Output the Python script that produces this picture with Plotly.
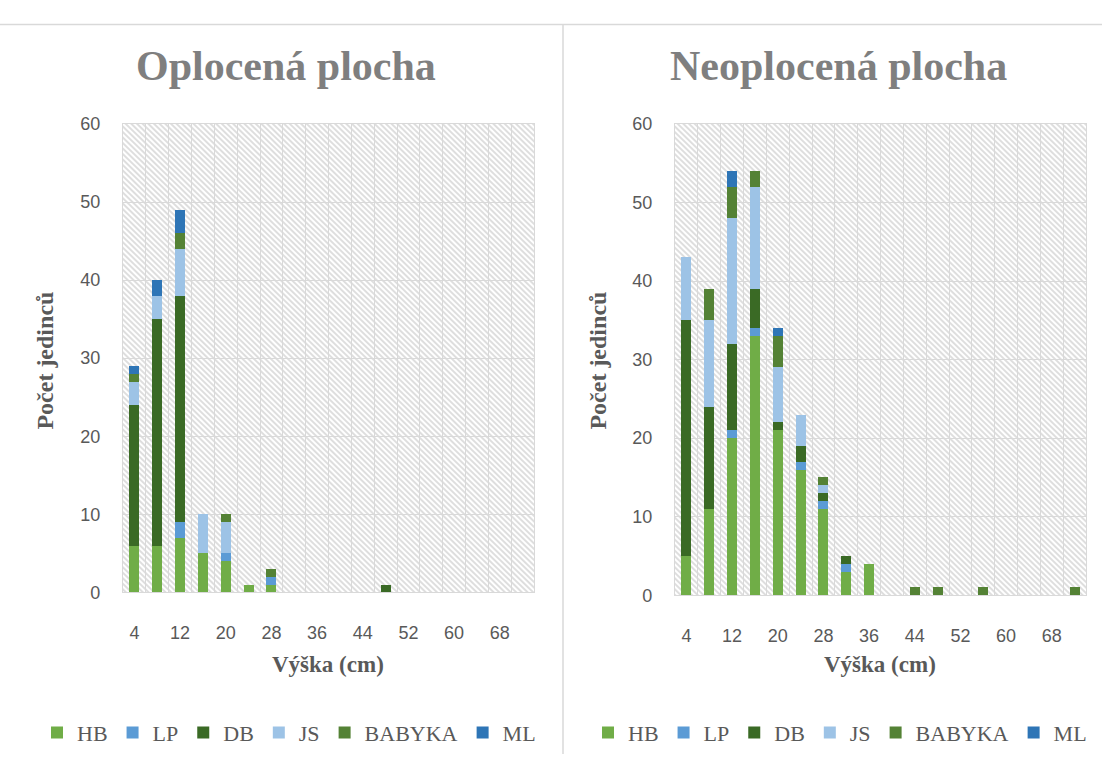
import base64
import plotly.graph_objects as go

# Height classes (cm) and the labelled ticks on the x axis
heights = [4, 8, 12, 16, 20, 24, 28, 32, 36, 40, 44, 48, 52, 56, 60, 64, 68, 72]
tick_heights = [4, 12, 20, 28, 36, 44, 52, 60, 68]
tick_labels = ["4", "12", "20", "28", "36", "44", "52", "60", "68"]

species = ["HB", "LP", "DB", "JS", "BABYKA", "ML"]
colors = ["#70AD47", "#5B9BD5", "#3A6A25", "#9DC3E6", "#548235", "#2E75B6"]

# Fenced plot (Oplocená plocha): counts per height class
fenced_HB = [6, 6, 7, 5, 4, 1, 1, 0, 0, 0, 0, 0, 0, 0, 0, 0, 0, 0]
fenced_LP = [0, 0, 2, 0, 1, 0, 1, 0, 0, 0, 0, 0, 0, 0, 0, 0, 0, 0]
fenced_DB = [18, 29, 29, 0, 0, 0, 0, 0, 0, 0, 0, 1, 0, 0, 0, 0, 0, 0]
fenced_JS = [3, 3, 6, 5, 4, 0, 0, 0, 0, 0, 0, 0, 0, 0, 0, 0, 0, 0]
fenced_BABYKA = [1, 0, 2, 0, 1, 0, 1, 0, 0, 0, 0, 0, 0, 0, 0, 0, 0, 0]
fenced_ML = [1, 2, 3, 0, 0, 0, 0, 0, 0, 0, 0, 0, 0, 0, 0, 0, 0, 0]

# Unfenced plot (Neoplocená plocha): counts per height class
open_HB = [5, 11, 20, 33, 21, 16, 11, 3, 4, 0, 0, 0, 0, 0, 0, 0, 0, 0]
open_LP = [0, 0, 1, 1, 0, 1, 1, 1, 0, 0, 0, 0, 0, 0, 0, 0, 0, 0]
open_DB = [30, 13, 11, 5, 1, 2, 1, 1, 0, 0, 0, 0, 0, 0, 0, 0, 0, 0]
open_JS = [8, 11, 16, 13, 7, 4, 1, 0, 0, 0, 0, 0, 0, 0, 0, 0, 0, 0]
open_BABYKA = [0, 4, 4, 2, 4, 0, 1, 0, 0, 0, 1, 1, 0, 1, 0, 0, 0, 1]
open_ML = [0, 0, 2, 0, 1, 0, 0, 0, 0, 0, 0, 0, 0, 0, 0, 0, 0, 0]

fenced = [fenced_HB, fenced_LP, fenced_DB, fenced_JS, fenced_BABYKA, fenced_ML]
unfenced = [open_HB, open_LP, open_DB, open_JS, open_BABYKA, open_ML]

W, H = 1102, 764
GRID = "#d9d9d9"
TEXT = "#595959"
SERIF = "Liberation Serif"
SANS = "Liberation Sans"

fig = go.Figure()

for name, col, vals in zip(species, colors, fenced):
    fig.add_trace(go.Bar(x=heights, y=vals, name=name, marker_color=col,
                         marker_line_width=0, width=1.75,
                         xaxis="x", yaxis="y", legend="legend"))
for name, col, vals in zip(species, colors, unfenced):
    fig.add_trace(go.Bar(x=heights, y=vals, name=name, marker_color=col,
                         marker_line_width=0, width=1.75,
                         xaxis="x2", yaxis="y2", legend="legend2"))

# Plot-area rectangles in pixels (left, right, top, bottom)
areas = [(123, 534, 117, 598), (675, 1086, 117, 601)]


def xdom(a):
    return [a[0] / W, a[1] / W]


def ydom(a):
    return [(H - a[3]) / H, (H - a[2]) / H]


def xaxis_cfg(a):
    return dict(domain=xdom(a), range=[2, 74], tickmode="array",
                tickvals=tick_heights, ticktext=tick_labels,
                showgrid=False, zeroline=False,
                minor=dict(tick0=2, dtick=4, showgrid=True, gridcolor=GRID, gridwidth=1.2),
                showline=True, linecolor=GRID, linewidth=1.2, mirror=True,
                tickfont=dict(family=SANS, size=18, color=TEXT),
                ticklabelstandoff=24, fixedrange=True)


def yaxis_cfg(a, anchor):
    return dict(domain=ydom(a), range=[0, 60], dtick=10, anchor=anchor,
                showgrid=True, gridcolor=GRID, gridwidth=1.4, zeroline=False,
                showline=True, linecolor=GRID, linewidth=1.2, mirror=True,
                tickfont=dict(family=SANS, size=18, color=TEXT),
                ticklabelstandoff=18, fixedrange=True)


# Diagonal hatch fill for the plot areas
def hatch_uri(w, h):
    s = 4.0
    svg = (f'<svg xmlns="http://www.w3.org/2000/svg" width="{w}" height="{h}">'
           f'<defs><pattern id="d" width="{s}" height="{s}" patternUnits="userSpaceOnUse" '
           f'patternTransform="rotate(-45)">'
           f'<rect width="{s}" height="{s}" fill="#ffffff"/>'
           f'<line x1="{s/2}" y1="0" x2="{s/2}" y2="{s}" stroke="#c4c4c4" stroke-width="1.1"/>'
           f'</pattern></defs><rect width="100%" height="100%" fill="url(#d)"/></svg>')
    return "data:image/svg+xml;base64," + base64.b64encode(svg.encode()).decode()


images = []
for i, a in enumerate(areas):
    sfx = "" if i == 0 else "2"
    images.append(dict(source=hatch_uri(a[1] - a[0], a[3] - a[2]),
                       xref=f"x{sfx} domain", yref=f"y{sfx} domain",
                       x=0, y=1, sizex=1, sizey=1, xanchor="left", yanchor="top",
                       sizing="stretch", layer="below"))

titles = ["Oplocená plocha", "Neoplocená plocha"]
title_x = [286, 838]
ytitle_x = [45, 598]
xtitle_x = [328, 880]

annotations = []
for i in range(2):
    annotations.append(dict(text=titles[i], x=title_x[i] / W, y=(H - 58) / H,
                            xref="paper", yref="paper", showarrow=False,
                            xanchor="center", yanchor="middle",
                            font=dict(family=SERIF, size=42, color="#7f7f7f", weight="bold")))
    annotations.append(dict(text="Počet jedinců", x=ytitle_x[i] / W, y=(H - 360) / H,
                            xref="paper", yref="paper", showarrow=False, textangle=-90,
                            xanchor="center", yanchor="middle",
                            font=dict(family=SERIF, size=24, color=TEXT, weight="bold")))
    annotations.append(dict(text="Výška (cm)", x=xtitle_x[i] / W, y=(H - 672) / H,
                            xref="paper", yref="paper", showarrow=False,
                            xanchor="center", yanchor="middle",
                            font=dict(family=SERIF, size=23, color=TEXT, weight="bold")))

shapes = [
    dict(type="line", xref="paper", yref="paper", x0=0, x1=1,
         y0=(H - 15) / H, y1=(H - 15) / H, line=dict(color=GRID, width=1.5)),
    dict(type="line", xref="paper", yref="paper", x0=563 / W, x1=563 / W,
         y0=0, y1=(H - 15) / H, line=dict(color=GRID, width=1.5)),
]

legend_font = dict(family=SERIF, size=22, color=TEXT)
fig.update_layout(
    width=W, height=H,
    margin=dict(l=0, r=0, t=0, b=0),
    paper_bgcolor="white", plot_bgcolor="white",
    barmode="stack",
    xaxis=xaxis_cfg(areas[0]),
    yaxis=yaxis_cfg(areas[0], "x"),
    xaxis2=xaxis_cfg(areas[1]) | dict(anchor="y2"),
    yaxis2=yaxis_cfg(areas[1], "x2"),
    legend=dict(orientation="h", traceorder="normal", x=289 / W, xanchor="center",
                y=(H - 742) / H, yanchor="middle", font=legend_font,
                bgcolor="rgba(0,0,0,0)", itemclick=False, itemdoubleclick=False),
    legend2=dict(orientation="h", traceorder="normal", x=840 / W, xanchor="center",
                 y=(H - 742) / H, yanchor="middle", font=legend_font,
                 bgcolor="rgba(0,0,0,0)", itemclick=False, itemdoubleclick=False),
    images=images,
    annotations=annotations,
    shapes=shapes,
)

fig.write_html("out.html")
